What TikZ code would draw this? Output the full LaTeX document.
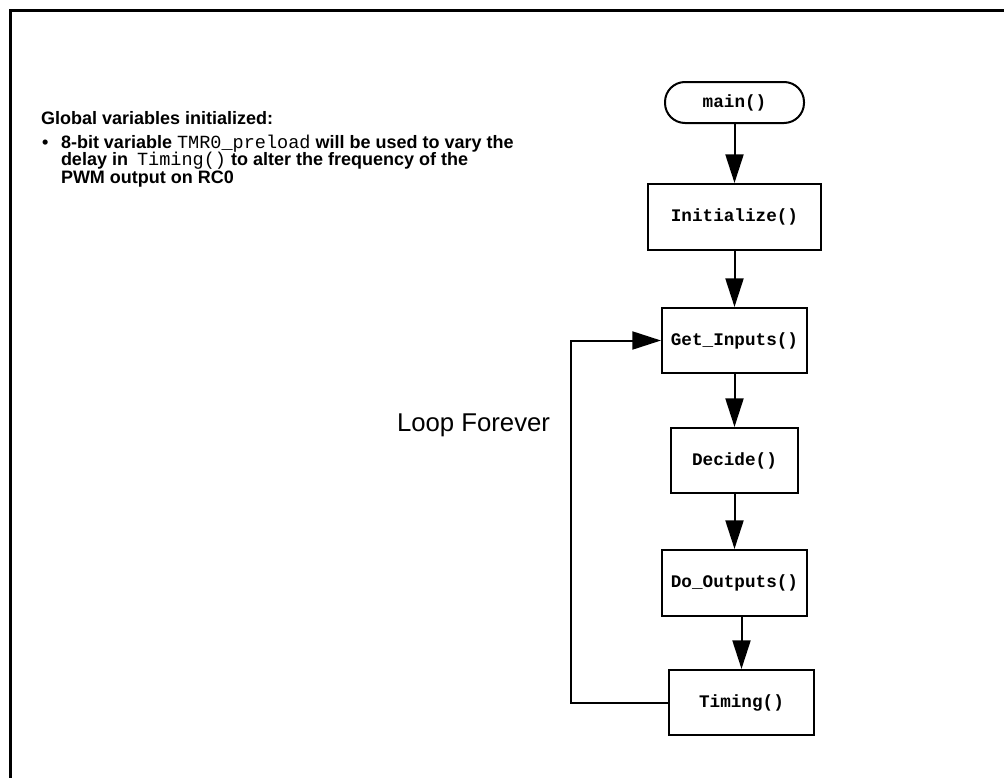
\documentclass[tikz,border=0pt]{standalone}
\usepackage{fontspec}
\setmainfont{Liberation Sans}
\setmonofont{Liberation Mono}
\newfontfamily\codefont{Liberation Mono}[Scale=1.03]
\usetikzlibrary{positioning, arrows.meta}

\begin{document}
\begin{tikzpicture}[
    x=0.75pt,
    y=-0.75pt,
    >={Triangle[length=21.5pt, width=13.5pt]},
    line width=1.5pt,
    func/.style={rectangle, draw, line width=1.5pt, inner sep=0pt, font=\fontsize{13.25}{15}\selectfont\ttfamily\bfseries},
    term/.style={func, rounded corners=15pt},
    note/.style={inner sep=0pt, anchor=base west, text height=9.8pt, text depth=2.2pt, font=\fontsize{13.5}{15}\selectfont\bfseries}
]

\useasboundingbox (0,0) rectangle (1004,778);

%---------------- Frame ----------------
\draw[line width=2.2pt] (1004,10.5) -| (10.5,778);

%---------------- Notes ----------------
\node[note] (globals) at (40,124.5) {Global variables initialized:};
\node[note] (dot) at (41,148) {\textbullet};
\node[note] (desc1) at (60,148) {8-bit variable {\codefont\mdseries TMR0\_preload} will be used to vary the};
\node[note] (desc2) at (60,165.5) {delay in\enspace{\codefont\mdseries Timing()} to alter the frequency of the};
\node[note] (desc3) at (60,183) {PWM output on RC0};

%---------------- Flow ----------------
\node[term, minimum width=104.25pt, minimum height=30.75pt] (main) at (734.5,102.5) {main()};
\foreach \name/\x/\y/\w/\h/\lab in {init/734.5/217/173/66/{Initialize()},
                                    inputs/734.5/340.5/145/65/{Get\_Inputs()},
                                    decide/734.5/460.5/127/65/{Decide()},
                                    outputs/734.5/583/145/66/{Do\_Outputs()},
                                    timing/741.5/702.5/145/65/{Timing()}} {
    \node[func, minimum width=\w*0.75pt, minimum height=\h*0.75pt] (\name) at (\x,\y) {\lab};
}

%---------------- Connections ----------------
\draw[->] (main) -- (init);
\draw[->] (init) -- (inputs);
\draw[->] (inputs) -- (decide);
\draw[->] (decide) -- (outputs);
\draw[->] (timing.north |- outputs.south) -- (timing.north);

% loop back
\coordinate (loopturn) at (571,340.5);
\draw[->] (timing.west) -| (loopturn) -- (inputs.west);
\node[inner sep=0pt, font=\fontsize{19.3}{22}\selectfont, anchor=base west] (looplabel) at (396,431.7) {Loop Forever};

\end{tikzpicture}
\end{document}
